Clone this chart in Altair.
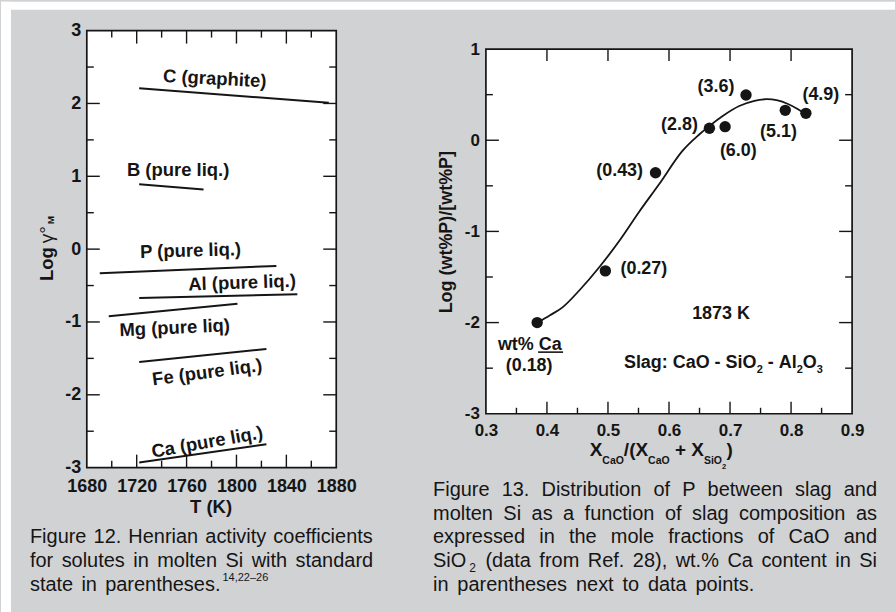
import altair as alt
import pandas as pd

FONT = "Liberation Sans"
INK = "#151515"
GRAY = "#d1d2d4"

# ---------------- Figure 12 data ----------------
solutes = ["C", "B", "P", "Al", "Mg", "Fe", "Ca"]
t_start = [1722, 1722, 1690.4, 1722, 1697.6, 1722, 1722]
t_end = [1874, 1773.6, 1832, 1848.8, 1800.8, 1824, 1824]
g_start = [2.21, 0.89, -0.33, -0.67, -0.92, -1.55, -2.93]
g_end = [2.01, 0.82, -0.23, -0.62, -0.75, -1.37, -2.68]
labels12 = ["C (graphite)", "B (pure liq.)", "P (pure liq.)", "Al (pure liq.)",
            "Mg (pure liq)", "Fe (pure liq.)", "Ca (pure liq.)"]
label12_t = [1782.6, 1753.2, 1763.2, 1804.5, 1750.5, 1776.5, 1776.5]
label12_g = [2.34, 1.09, -0.02, -0.46, -1.08, -1.69, -2.65]
label12_angle = [3, 0, 358.5, 358, 357.5, 352.5, 350]

t_labels = [1680, 1720, 1760, 1800, 1840, 1880]
t_major = [1720, 1760, 1800, 1840]
t_minor = [1700, 1740, 1780, 1820, 1860]
g_labels = [-3, -2, -1, 0, 1, 2, 3]
g_major = [-2, -1, 0, 1, 2]
g_minor = [-2.5, -1.5, -0.5, 0.5, 1.5, 2.5]

# ---------------- Figure 13 data ----------------
x_ratio = [0.384, 0.4957, 0.5779, 0.6662, 0.6919, 0.7262, 0.7905, 0.8243]
log_dist = [-2.0, -1.433, -0.356, 0.131, 0.149, 0.496, 0.328, 0.295]
ca_wt = ["(0.18)", "(0.27)", "(0.43)", "(2.8)", "(6.0)", "(3.6)", "(5.1)", "(4.9)"]
ca_lab_x = [0.3708, 0.5588, 0.5191, 0.6172, 0.7136, 0.6771, 0.7795, 0.8488]
ca_lab_y = [-2.474, -1.414, -0.337, 0.164, -0.118, 0.584, 0.090, 0.493]

curve_x = [0.385, 0.405, 0.426, 0.454, 0.486, 0.519, 0.552, 0.584, 0.622, 0.650,
           0.666, 0.688, 0.715, 0.740, 0.760, 0.778, 0.794, 0.810, 0.824]
curve_y = [-2.00, -1.92, -1.83, -1.64, -1.39, -1.10, -0.776, -0.48, -0.117, 0.066,
           0.155, 0.266, 0.375, 0.432, 0.450, 0.436, 0.400, 0.345, 0.284]

notes13 = ["wt% Ca", "1873 K"]
notes13_x = [0.3719, 0.6853]
notes13_y = [-2.244, -1.907]
underline_x = [0.3855, 0.4264]
underline_y = -2.324
slag_x, slag_y = 0.6891, -2.499

x13_labels = [0.3, 0.4, 0.5, 0.6, 0.7, 0.8, 0.9]
x13_major = [0.4, 0.5, 0.6, 0.7, 0.8]
x13_minor = [0.35, 0.45, 0.55, 0.65, 0.75, 0.85]
y13_labels = [-3, -2, -1, 0, 1]
y13_major = [-2, -1, 0]
y13_minor = [-2.5, -1.5, -0.5, 0.5]

cap12_lines = ["Figure 12. Henrian activity coefficients",
               "for solutes in molten Si with standard",
               "state in parentheses."]
cap12_sup = "14,22–26"
cap13_lines = ["Figure 13. Distribution of P between slag and",
               "molten Si as a function of slag composition as",
               "expressed in the mole fractions of CaO and",
               "SiO_2 (data from Ref. 28), wt.% Ca content in Si",
               "in parentheses next to data points."]

# ---------------- text metrics (Arial-compatible) ----------------
REG = dict(zip(" abcdefghijklmnopqrstuvwxyz",
               [278, 556, 556, 500, 556, 556, 278, 556, 556, 222, 222, 500, 222, 833,
                556, 556, 556, 556, 333, 500, 278, 556, 500, 722, 500, 500, 500]))
REG.update({"A": 667, "B": 667, "C": 722, "D": 722, "E": 667, "F": 611, "G": 778, "H": 722,
            "I": 278, "J": 500, "K": 667, "L": 556, "M": 833, "N": 722, "O": 778, "P": 667,
            "Q": 778, "R": 722, "S": 667, "T": 611, "U": 722, "V": 667, "W": 944, "X": 667,
            "Y": 667, "Z": 611, ".": 278, ",": 278, "(": 333, ")": 333, "%": 889, "-": 333,
            "–": 556, "/": 278, "+": 584, ":": 278})
BOLD = dict(zip(" abcdefghijklmnopqrstuvwxyz",
                [278, 556, 611, 556, 611, 556, 333, 611, 611, 278, 278, 556, 278, 889,
                 611, 611, 611, 611, 389, 556, 333, 611, 556, 778, 556, 556, 500]))
BOLD.update({"A": 722, "B": 722, "C": 722, "D": 722, "E": 667, "F": 611, "G": 778, "H": 722,
             "I": 278, "K": 722, "L": 611, "M": 833, "N": 722, "O": 778, "P": 667, "R": 722,
             "S": 667, "T": 611, "X": 667, ".": 278, ",": 278, "(": 333, ")": 333, "%": 889,
             "-": 333, "/": 278, "+": 584, ":": 333, "[": 333, "]": 333})
for d in "0123456789":
    REG[d] = 556
    BOLD[d] = 556


def tw(s, size, bold=False):
    t = BOLD if bold else REG
    return sum(t.get(c, 556) for c in s) * size / 1000.0


def justify(lines, x0, ends, base0, lead, size):
    rows, subs = [], []
    for i, line in enumerate(lines):
        parts = []
        for w in line.split(" "):
            if "_" in w:
                m, s = w.split("_")
                parts.append((m, s, tw(m, size) + tw(s, size * 0.6) + 4))
            else:
                parts.append((w, "", tw(w, size)))
        total = sum(p[2] for p in parts)
        gap = (ends[i] - x0 - total) / (len(parts) - 1)
        x = x0
        y = base0 + i * lead
        for m, s, w in parts:
            rows.append({"px": x, "py": y, "t": m, "fs": size})
            if s:
                subs.append({"px": x + tw(m, size) + 3, "py": y + 4.5, "t": s,
                             "fs": size * 0.6})
            x += w + gap
    return rows, subs


def compose(segs, x0, y0, bold=True):
    rows, x = [], x0
    for text, size, dy, pre in segs:
        x += pre
        rows.append({"px": x, "py": y0 + dy, "t": text, "fs": size})
        x += tw(text, size, bold)
    return rows


ONE = pd.DataFrame({"k": [0]})


def px_text(rows, weight="normal", angle=0):
    out = []
    for r in rows:
        out.append(alt.Chart(ONE).mark_text(
            font=FONT, fontWeight=weight, fontSize=r["fs"], align="left",
            baseline="alphabetic", color=INK, angle=angle, text=r["t"]).encode(
            x=alt.value(r["px"]), y=alt.value(r["py"])))
    return out


def ticks_h(vals, at, off, xs, ys, ax, ay):
    return alt.Chart(pd.DataFrame({"v": vals})).mark_rule(
        color=INK, strokeWidth=1.4, y2Offset=off).encode(
        x=alt.X("v:Q", scale=xs, axis=ax),
        y=alt.YDatum(at, scale=ys, axis=ay), y2=alt.Y2Datum(at))


def ticks_v(vals, at, off, xs, ys, ax, ay):
    return alt.Chart(pd.DataFrame({"v": vals})).mark_rule(
        color=INK, strokeWidth=1.4, x2Offset=off).encode(
        y=alt.Y("v:Q", scale=ys, axis=ay),
        x=alt.XDatum(at, scale=xs, axis=ax), x2=alt.X2Datum(at))


def frame(x0, x1, y0, y1, xs, ys, ax, ay):
    return alt.Chart(ONE).mark_rect(fill="white", stroke=INK, strokeWidth=1.7).encode(
        x=alt.XDatum(x0, scale=xs, axis=ax), x2=alt.X2Datum(x1),
        y=alt.YDatum(y0, scale=ys, axis=ay), y2=alt.Y2Datum(y1))


# ---------------- left chart (Figure 12) ----------------
L_W, L_H = 250, 438
xs12 = alt.Scale(domain=[1680, 1880], nice=False, zero=False)
ys12 = alt.Scale(domain=[-3, 3], nice=False, zero=False)

rows = []
for s, a, b, c, d in zip(solutes, t_start, t_end, g_start, g_end):
    rows += [{"solute": s, "T": a, "g": c}, {"solute": s, "T": b, "g": d}]
lines12 = pd.DataFrame(rows)
lab12 = pd.DataFrame({"t": labels12, "T": label12_t, "g": label12_g, "ang": label12_angle})

ax12x = alt.Axis(values=t_labels, labelExpr="toString(datum.value)", ticks=False, tickSize=0,
                 domain=False, grid=False, labelFont=FONT, labelFontSize=18,
                 labelFontWeight="bold", labelColor=INK, labelPadding=9.7,
                 labelOverlap=False, labelFlush=False,
                 title="T (K)", titleFont=FONT, titleFontSize=18.5, titleFontWeight="bold",
                 titleColor=INK, titleBaseline="alphabetic", titleAlign="center",
                 titleX=124, titleY=44.5, zindex=1)
ax12y = alt.Axis(values=g_labels, labelExpr="toString(datum.value)", ticks=False, tickSize=0,
                 domain=False, grid=False, labelFont=FONT, labelFontSize=18,
                 labelFontWeight="bold", labelColor=INK, labelPadding=6, title="",
                 labelOverlap=False, labelFlush=False, zindex=1)

strip_top = alt.Chart(ONE).mark_rect(fill="white").encode(
    x=alt.value(-86), x2=alt.value(810), y=alt.value(-29), y2=alt.value(-21))
strip_left = alt.Chart(ONE).mark_rect(fill="white").encode(
    x=alt.value(-86), x2=alt.value(-76), y=alt.value(-29), y2=alt.value(583))

line12 = alt.Chart(lines12).mark_line(color=INK, strokeWidth=2).encode(
    x=alt.X("T:Q", scale=xs12, axis=ax12x),
    y=alt.Y("g:Q", scale=ys12, axis=ax12y),
    detail="solute:N")
text12 = alt.Chart(lab12).mark_text(font=FONT, fontSize=18.5, fontWeight="bold",
                                    align="center", baseline="middle", color=INK).encode(
    x=alt.X("T:Q", scale=xs12, axis=ax12x), y=alt.Y("g:Q", scale=ys12, axis=ax12y),
    text="t:N", angle=alt.Angle("ang:Q", scale=None))

ytitle12 = (px_text([{"px": -34.3, "py": 251, "t": "Log", "fs": 18.5},
                     {"px": -32.7, "py": 194, "t": "M", "fs": 10}], weight="bold", angle=270)
            + px_text([{"px": -34.3, "py": 213, "t": "γ°", "fs": 19}], angle=270))

cap12_rows, _ = justify(cap12_lines, -57, [287, 287, 134], 514, 24, 20)
cap12 = px_text(cap12_rows) + px_text([{"px": 136, "py": 552, "t": cap12_sup, "fs": 11}])

left = alt.layer(
    line12,
    strip_top, strip_left,
    frame(1680, 1880, -3, 3, xs12, ys12, ax12x, ax12y),
    ticks_h(t_major, -3, -13, xs12, ys12, ax12x, ax12y),
    ticks_h(t_minor, -3, -7, xs12, ys12, ax12x, ax12y),
    ticks_h(t_major, 3, 13, xs12, ys12, ax12x, ax12y),
    ticks_h(t_minor, 3, 7, xs12, ys12, ax12x, ax12y),
    ticks_v(g_major, 1680, 13, xs12, ys12, ax12x, ax12y),
    ticks_v(g_minor, 1680, 7, xs12, ys12, ax12x, ax12y),
    ticks_v(g_major, 1880, -13, xs12, ys12, ax12x, ax12y),
    ticks_v(g_minor, 1880, -7, xs12, ys12, ax12x, ax12y),
    line12, text12, *ytitle12, *cap12,
).properties(width=L_W, height=L_H)

# ---------------- right chart (Figure 13) ----------------
R_W, R_H = 367, 384
R_YMAX = 1 + 18.5 / 91.4
xs13 = alt.Scale(domain=[0.3, 0.9], nice=False, zero=False)
ys13 = alt.Scale(domain=[-3, R_YMAX], nice=False, zero=False)

ax13x = alt.Axis(values=x13_labels, format=".1f", ticks=False, tickSize=0, domain=False,
                 grid=False, labelFont=FONT, labelFontSize=17, labelFontWeight="bold",
                 labelColor=INK, labelPadding=8.7, labelOverlap=False, labelFlush=False,
                 title="", zindex=1)
ax13y = alt.Axis(values=y13_labels, labelExpr="toString(datum.value)", ticks=False,
                 tickSize=0, domain=False, grid=False, labelFont=FONT, labelFontSize=17,
                 labelFontWeight="bold", labelColor=INK, labelPadding=6.5,
                 labelOverlap=False, labelFlush=False,
                 title="Log (wt%P)/[wt%P]", titleFont=FONT, titleFontSize=18,
                 titleFontWeight="bold", titleColor=INK, titleAngle=270,
                 titleBaseline="middle", titleAlign="center", titleX=-39.5, titleY=201.5,
                 zindex=1)

pts = pd.DataFrame({"x": x_ratio, "y": log_dist})
curve = pd.DataFrame({"x": curve_x, "y": curve_y})
lab13 = pd.DataFrame({"x": ca_lab_x + notes13_x, "y": ca_lab_y + notes13_y,
                      "t": ca_wt + notes13})

curve13 = alt.Chart(curve).mark_line(color=INK, strokeWidth=1.8,
                                     interpolate="catmull-rom").encode(
    x=alt.X("x:Q", scale=xs13, axis=ax13x), y=alt.Y("y:Q", scale=ys13, axis=ax13y))
pts13 = alt.Chart(pts).mark_circle(size=130, color=INK, opacity=1).encode(
    x=alt.X("x:Q", scale=xs13, axis=ax13x), y=alt.Y("y:Q", scale=ys13, axis=ax13y))
text13 = alt.Chart(lab13).mark_text(font=FONT, fontSize=18, fontWeight="bold",
                                    align="center", baseline="middle", color=INK).encode(
    x=alt.X("x:Q", scale=xs13, axis=ax13x), y=alt.Y("y:Q", scale=ys13, axis=ax13y),
    text="t:N")
uline = alt.Chart(pd.DataFrame({"x": [underline_x[0]], "x2": [underline_x[1]],
                                "y": [underline_y]})).mark_rule(color=INK, strokeWidth=1.6).encode(
    x=alt.X("x:Q", scale=xs13, axis=ax13x), x2="x2:Q",
    y=alt.Y("y:Q", scale=ys13, axis=ax13y))

sp18 = tw(" ", 18, True)
slag_segs = [("Slag: CaO - SiO", 18, 0, 0), ("2", 11, 4.5, 0), ("-", 18, 0, sp18),
             ("Al", 18, 0, sp18), ("2", 11, 4.5, 0), ("O", 18, 0, 0), ("3", 11, 4.5, 0)]
slag_w = sum(tw(t, s, True) + p for t, s, _, p in slag_segs)
slag_layers, cx = [], -slag_w / 2
for t, s, dy, p in slag_segs:
    cx += p
    slag_layers.append(
        alt.Chart(ONE).mark_text(font=FONT, fontSize=s, fontWeight="bold", align="left",
                                 baseline="alphabetic", color=INK, dx=cx, dy=dy,
                                 text=t).encode(
            x=alt.XDatum(slag_x, scale=xs13, axis=ax13x),
            y=alt.YDatum(slag_y, scale=ys13, axis=ax13y)))
    cx += tw(t, s, True)

sp19 = tw(" ", 19, True)
xtitle13 = px_text(compose([("X", 19, 0, 0), ("CaO", 10.5, 8.5, 0), ("/(", 19, 0, 0),
                            ("X", 19, 0, 0), ("CaO", 10.5, 8.5, 0), ("+", 19, 0, sp19),
                            ("X", 19, 0, sp19), ("SiO", 10.5, 8.5, 0), ("2", 7.5, 13, 0),
                            (")", 19, 0, 0.5)], 104, 426), weight="bold")

cap13_rows, sub13_rows = justify(cap13_lines, -53, [392, 392, 392, 392, 269], 466, 24, 20)
cap13 = px_text(cap13_rows) + px_text(sub13_rows)

right = alt.layer(
    frame(0.3, 0.9, -3, 1, xs13, ys13, ax13x, ax13y),
    ticks_h(x13_major, -3, -12, xs13, ys13, ax13x, ax13y),
    ticks_h(x13_minor, -3, -6, xs13, ys13, ax13x, ax13y),
    ticks_h(x13_major, 1, 12, xs13, ys13, ax13x, ax13y),
    ticks_v(y13_major, 0.3, 13, xs13, ys13, ax13x, ax13y),
    ticks_v(y13_minor, 0.3, 7, xs13, ys13, ax13x, ax13y),
    ticks_v(y13_major, 0.9, -13, xs13, ys13, ax13x, ax13y),
    ticks_v(y13_minor, 0.9, -7, xs13, ys13, ax13x, ax13y),
    curve13, pts13, text13, uline, *slag_layers, *xtitle13, *cap13,
).properties(width=R_W, height=R_H)

chart = alt.hconcat(left, right, spacing=150, bounds="flush").properties(
    padding=0, background=GRAY
).configure(font=FONT, view=alt.ViewConfig(stroke="transparent"))

chart.save("out.html", embed_options={"renderer": "svg", "actions": False})
